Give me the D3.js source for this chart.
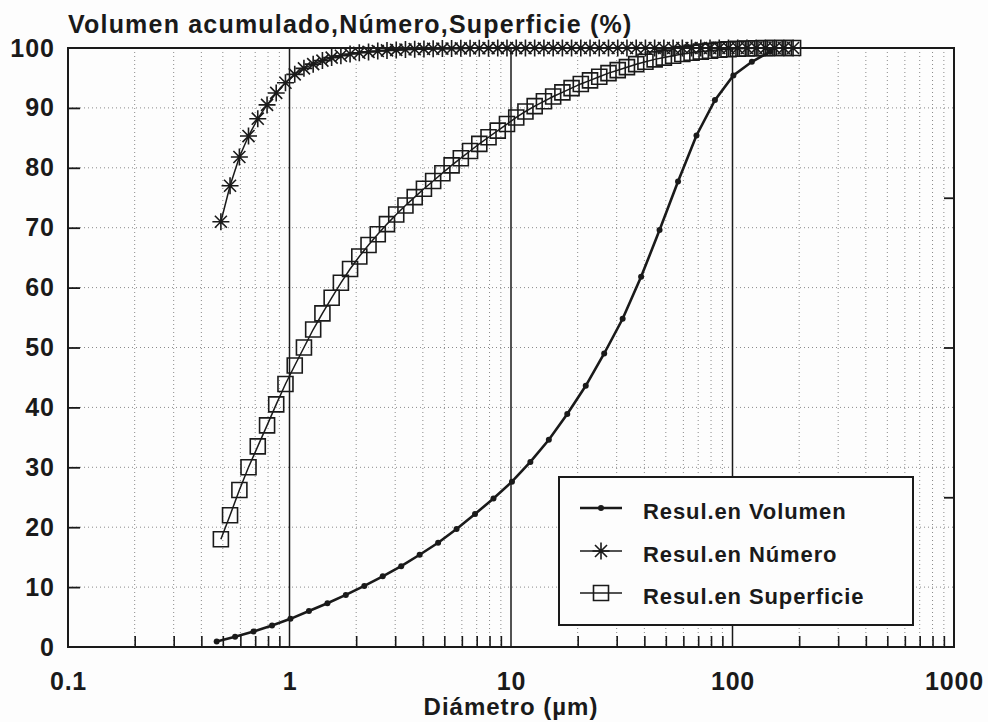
<!DOCTYPE html>
<html><head><meta charset="utf-8">
<script src="https://cdn.jsdelivr.net/npm/d3@7"></script>
<style>
html,body{margin:0;padding:0;background:#fdfdfd;}
svg{display:block;}
text{font-family:"Liberation Sans",Arial,Helvetica,sans-serif;font-weight:bold;fill:#1a1a1a;}
</style></head>
<body>
<script>
// ---------- DATA ----------
const titleText = "Volumen acumulado,Número,Superficie (%)";
const xTitleText = "Diámetro (µm)";
const xTickValues = [0.1, 1, 10, 100, 1000];
const xTickLabels = ["0.1", "1", "10", "100", "1000"];
const yTickValues = [0, 10, 20, 30, 40, 50, 60, 70, 80, 90, 100];
const yTickLabels = ["0", "10", "20", "30", "40", "50", "60", "70", "80", "90", "100"];
const yRightTicks = [25, 50, 75];
const seriesNames = ["Resul.en Volumen", "Resul.en Número", "Resul.en Superficie"];

const diamVol = [0.469,0.568,0.688,0.834,1.010,1.224,1.483,1.796,2.176,2.636,3.194,3.869,4.688,5.679,6.880,8.335,10.10,12.23,14.82,17.95,21.75,26.35,31.92,38.67,46.85,56.76,68.76,83.30,100.9,122.3,148.1];
const volumen = [0.9,1.7,2.6,3.6,4.7,6.0,7.3,8.7,10.2,11.8,13.5,15.4,17.4,19.7,22.2,24.8,27.6,30.9,34.6,38.9,43.6,49.0,54.8,61.8,69.6,77.7,85.4,91.3,95.4,97.7,99.4];

const diamFine = [0.490,0.539,0.594,0.653,0.719,0.792,0.871,0.959,1.056,1.162,1.279,1.408,1.550,1.706,1.877,2.066,2.274,2.503,2.755,3.033,3.338,3.675,4.045,4.452,4.900,5.393,5.936,6.534,7.192,7.916,8.713,9.590,10.56,11.62,12.79,14.08,15.50,17.06,18.77,20.66,22.74,25.03,27.55,30.33,33.38,36.75,40.45,44.52,49.00,53.93,59.36,65.34,71.92,79.16,87.13,95.90,105.6,116.2,127.9,140.8,155.0,170.6,187.7];
const numero = [71.0,77.0,81.8,85.3,88.2,90.5,92.5,94.2,95.6,96.6,97.3,97.9,98.4,98.7,99.0,99.2,99.35,99.5,99.6,99.68,99.75,99.8,99.85,99.88,99.9,99.92,99.94,99.95,99.96,99.97,99.98,99.98,99.99,99.99,100,100,100,100,100,100,100,100,100,100,100,100,100,100,100,100,100,100,100,100,100,100,100,100,100,100,100,100,100];
const superficie = [18.0,22.0,26.2,30.0,33.5,37.0,40.5,43.9,47.0,50.0,53.0,55.7,58.3,60.8,63.1,65.2,67.1,68.9,70.6,72.2,73.7,75.1,76.5,77.8,79.1,80.4,81.6,82.8,84.0,85.1,86.2,87.3,88.4,89.4,90.3,91.1,91.9,92.6,93.3,94.0,94.6,95.2,95.8,96.3,96.8,97.3,97.7,98.1,98.4,98.7,99.0,99.2,99.4,99.55,99.7,99.8,99.87,99.92,99.96,99.98,100,100,100];

// ---------- LAYOUT ----------
const W = 988, H = 722;
const L = 68, R = 954, T = 48, B = 647;
const ink = "#1a1a1a";

const svg = d3.select("body").append("svg").attr("width", W).attr("height", H);
svg.append("rect").attr("width", W).attr("height", H).attr("fill", "#fdfdfd");

const x = d3.scaleLog().domain([0.1, 1000]).range([L, R]);
const y = d3.scaleLinear().domain([0, 100]).range([B, T]);

const allLogTicks = x.ticks();
const isPow10 = v => Math.abs(Math.log10(v) - Math.round(Math.log10(v))) < 1e-6;
const minorTicks = allLogTicks.filter(v => !isPow10(v));
const majorInner = allLogTicks.filter(v => isPow10(v) && v > 0.1 && v < 1000);

// grid
const grid = svg.append("g");
grid.selectAll("line.vg").data(minorTicks).join("line")
  .attr("x1", d => x(d)).attr("x2", d => x(d)).attr("y1", T).attr("y2", B)
  .attr("stroke", "#8a8a8a").attr("stroke-width", 1).attr("stroke-dasharray", "1,3");
grid.selectAll("line.hg").data(yTickValues.filter(v => v > 0 && v < 100)).join("line")
  .attr("x1", L).attr("x2", R).attr("y1", d => y(d)).attr("y2", d => y(d))
  .attr("stroke", "#8a8a8a").attr("stroke-width", 1).attr("stroke-dasharray", "1,3");
grid.selectAll("line.mj").data(majorInner).join("line")
  .attr("x1", d => x(d)).attr("x2", d => x(d)).attr("y1", T).attr("y2", B)
  .attr("stroke", ink).attr("stroke-width", 1.5);

// minor ticks bottom (pointing up)
svg.append("g").attr("transform", `translate(0,${B})`)
  .call(d3.axisTop(x).tickValues(minorTicks).tickSize(11).tickFormat(""))
  .call(g => g.select(".domain").remove())
  .call(g => g.selectAll("line").attr("stroke", ink).attr("stroke-width", 1.6));
// left ticks (pointing right)
svg.append("g").attr("transform", `translate(${L},0)`)
  .call(d3.axisRight(y).tickValues(yTickValues.filter(v => v > 0 && v < 100)).tickSize(12).tickFormat(""))
  .call(g => g.select(".domain").remove())
  .call(g => g.selectAll("line").attr("stroke", ink).attr("stroke-width", 1.8));
// right ticks (pointing left)
svg.append("g").attr("transform", `translate(${R},0)`)
  .call(d3.axisLeft(y).tickValues(yRightTicks).tickSize(10).tickFormat(""))
  .call(g => g.select(".domain").remove())
  .call(g => g.selectAll("line").attr("stroke", ink).attr("stroke-width", 1.8));

// curves
const lineFn = d3.line().x(d => x(d[0])).y(d => y(d[1]));
const supData = diamFine.map((d, i) => [d, superficie[i]]);
const numData = diamFine.map((d, i) => [d, numero[i]]);
const volData = diamVol.map((d, i) => [d, volumen[i]]);

const starType = {
  draw(ctx, size) {
    const r = Math.sqrt(size) / 2;
    const a = r * Math.SQRT1_2;
    ctx.moveTo(0, -r); ctx.lineTo(0, r);
    ctx.moveTo(-r, 0); ctx.lineTo(r, 0);
    ctx.moveTo(-a, -a); ctx.lineTo(a, a);
    ctx.moveTo(-a, a); ctx.lineTo(a, -a);
  }
};
const starPath = d3.symbol().type(starType).size(17 * 17)();
const sqPath = d3.symbol().type(d3.symbolSquare).size(15 * 15)();

const gS = svg.append("g");
gS.append("path").attr("d", lineFn(supData)).attr("fill", "none").attr("stroke", ink).attr("stroke-width", 1.5);
gS.selectAll("path.m").data(supData).join("path").attr("class", "m")
  .attr("d", sqPath).attr("transform", d => `translate(${x(d[0])},${y(d[1])})`)
  .attr("fill", "none").attr("stroke", ink).attr("stroke-width", 1.6);

const gN = svg.append("g");
gN.append("path").attr("d", lineFn(numData)).attr("fill", "none").attr("stroke", ink).attr("stroke-width", 1.5);
gN.selectAll("path.m").data(numData).join("path").attr("class", "m")
  .attr("d", starPath).attr("transform", d => `translate(${x(d[0])},${y(d[1])})`)
  .attr("fill", "none").attr("stroke", ink).attr("stroke-width", 1.6);

const gV = svg.append("g");
gV.append("path").attr("d", lineFn(volData)).attr("fill", "none").attr("stroke", ink).attr("stroke-width", 2.6);
gV.selectAll("circle").data(volData).join("circle")
  .attr("cx", d => x(d[0])).attr("cy", d => y(d[1])).attr("r", 3).attr("fill", ink);

// frame
svg.append("rect").attr("x", L).attr("y", T).attr("width", R - L).attr("height", B - T)
  .attr("fill", "none").attr("stroke", ink).attr("stroke-width", 2);

// axes labels
svg.append("g").attr("transform", `translate(0,${B})`)
  .call(d3.axisBottom(x).tickValues(xTickValues).tickSize(0).tickPadding(25)
    .tickFormat((d, i) => xTickLabels[i]))
  .call(g => g.select(".domain").remove())
  .call(g => g.selectAll("text").attr("font-size", 25).attr("letter-spacing", "0.8px")
    .attr("font-family", '"Liberation Sans",Arial,sans-serif').attr("font-weight", "bold").attr("fill", ink));
svg.append("g").attr("transform", `translate(${L},0)`)
  .call(d3.axisLeft(y).tickValues(yTickValues).tickSize(0).tickPadding(13)
    .tickFormat((d, i) => yTickLabels[i]))
  .call(g => g.select(".domain").remove())
  .call(g => g.selectAll("text").attr("font-size", 25).attr("letter-spacing", "1px")
    .attr("font-family", '"Liberation Sans",Arial,sans-serif').attr("font-weight", "bold").attr("fill", ink));

svg.append("text").attr("x", L).attr("y", 33).attr("font-size", 25).attr("letter-spacing", "1.2px")
  .text(titleText);
svg.append("text").attr("x", x(10)).attr("y", 715).attr("text-anchor", "middle")
  .attr("font-size", 24).attr("letter-spacing", "1px").text(xTitleText);

// legend
const lg = svg.append("g");
lg.append("rect").attr("x", 559).attr("y", 477).attr("width", 354).attr("height", 148)
  .attr("fill", "#fdfdfd").attr("stroke", ink).attr("stroke-width", 2);
const rows = [511, 554, 596];
seriesNames.forEach((name, i) => {
  const ry = rows[i] - 3;
  lg.append("line").attr("x1", 580).attr("x2", 622).attr("y1", ry).attr("y2", ry)
    .attr("stroke", ink).attr("stroke-width", i === 0 ? 2.6 : 1.5);
  if (i === 0) lg.append("circle").attr("cx", 601).attr("cy", ry).attr("r", 3).attr("fill", ink);
  if (i === 1) lg.append("path").attr("d", starPath).attr("transform", `translate(601,${ry})`)
    .attr("fill", "none").attr("stroke", ink).attr("stroke-width", 1.6);
  if (i === 2) lg.append("path").attr("d", sqPath).attr("transform", `translate(601,${ry})`)
    .attr("fill", "none").attr("stroke", ink).attr("stroke-width", 1.6);
  lg.append("text").attr("x", 643).attr("y", rows[i] + 8).attr("font-size", 22)
    .attr("letter-spacing", "0.9px").text(name);
});
</script>
</body></html>
